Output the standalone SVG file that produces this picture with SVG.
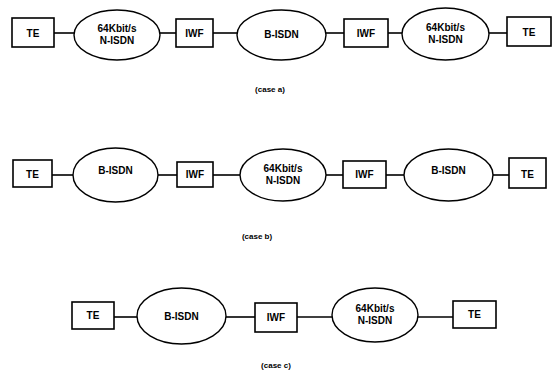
<svg xmlns="http://www.w3.org/2000/svg" width="556" height="376" viewBox="0 0 556 376">
<style>
.box{fill:#fff;stroke:#000;stroke-width:1.6}
.ell{fill:#fff;stroke:#000;stroke-width:1.4}
.conn line{stroke:#000;stroke-width:1.6}
text{font-family:"Liberation Sans",Arial,sans-serif;font-weight:bold;font-size:10px;text-anchor:middle;fill:#000}
.cap{font-size:8px}
</style>
<rect width="556" height="376" fill="#fff"/>
<g id="connectors" class="conn">
<line x1="54" y1="33" x2="74" y2="33"/>
<line x1="160" y1="33" x2="176" y2="33"/>
<line x1="213" y1="33" x2="237" y2="33"/>
<line x1="326" y1="33" x2="344" y2="33"/>
<line x1="388" y1="33" x2="402" y2="33"/>
<line x1="489" y1="33" x2="507" y2="33"/>
<line x1="52" y1="175" x2="73" y2="175"/>
<line x1="158" y1="175" x2="177" y2="175"/>
<line x1="213" y1="175" x2="240" y2="175"/>
<line x1="326" y1="175" x2="343" y2="175"/>
<line x1="386" y1="175" x2="404" y2="175"/>
<line x1="493" y1="175" x2="509" y2="175"/>
<line x1="114" y1="317" x2="137" y2="317"/>
<line x1="226" y1="317" x2="255" y2="317"/>
<line x1="297" y1="317" x2="332" y2="317"/>
<line x1="418" y1="317" x2="453" y2="317"/>
</g>
<g id="a_te1"><rect class="box" x="12" y="18" width="42" height="29"/><text x="33" y="37">TE</text></g>
<g id="a_nisdn1"><ellipse class="ell" cx="117" cy="35" rx="43" ry="25"/><text x="117" y="32">64Kbit/s</text><text x="117" y="44">N-ISDN</text></g>
<g id="a_iwf1"><rect class="box" x="176" y="19" width="37" height="28"/><text x="194.5" y="37">IWF</text></g>
<g id="a_bisdn"><ellipse class="ell" cx="281.5" cy="35" rx="44.5" ry="25"/><text x="281.5" y="38">B-ISDN</text></g>
<g id="a_iwf2"><rect class="box" x="344" y="19" width="44" height="28"/><text x="366" y="37">IWF</text></g>
<g id="a_nisdn2"><ellipse class="ell" cx="445.5" cy="34" rx="43.5" ry="26"/><text x="445.5" y="31">64Kbit/s</text><text x="445.5" y="43">N-ISDN</text></g>
<g id="a_te2"><rect class="box" x="507" y="17" width="44" height="29"/><text x="529" y="36">TE</text></g>
<text class="cap" x="270" y="92">(case a)</text>
<g id="b_te1"><rect class="box" x="13" y="160" width="39" height="27"/><text x="32.5" y="178">TE</text></g>
<g id="b_bisdn1"><ellipse class="ell" cx="115.5" cy="175" rx="42.5" ry="27"/><text x="115.5" y="174">B-ISDN</text></g>
<g id="b_iwf1"><rect class="box" x="177" y="162" width="36" height="25"/><text x="195" y="178">IWF</text></g>
<g id="b_nisdn"><ellipse class="ell" cx="283" cy="175" rx="43" ry="26"/><text x="283" y="172">64Kbit/s</text><text x="283" y="184">N-ISDN</text></g>
<g id="b_iwf2"><rect class="box" x="343" y="161" width="43" height="27"/><text x="364.5" y="178">IWF</text></g>
<g id="b_bisdn2"><ellipse class="ell" cx="448.5" cy="175" rx="44.5" ry="26"/><text x="448.5" y="174">B-ISDN</text></g>
<g id="b_te2"><rect class="box" x="509" y="158" width="37" height="30"/><text x="527.5" y="178">TE</text></g>
<text class="cap" x="257" y="239">(case b)</text>
<g id="c_te1"><rect class="box" x="72" y="302" width="42" height="27"/><text x="93" y="319">TE</text></g>
<g id="c_bisdn"><ellipse class="ell" cx="181.5" cy="316" rx="44.5" ry="28"/><text x="181.5" y="320">B-ISDN</text></g>
<g id="c_iwf"><rect class="box" x="255" y="303" width="42" height="29"/><text x="276" y="321">IWF</text></g>
<g id="c_nisdn"><ellipse class="ell" cx="375" cy="315" rx="43" ry="27"/><text x="375" y="312">64Kbit/s</text><text x="375" y="324">N-ISDN</text></g>
<g id="c_te2"><rect class="box" x="453" y="301" width="43" height="27"/><text x="474.5" y="318">TE</text></g>
<text class="cap" x="276" y="368">(case c)</text>
</svg>
